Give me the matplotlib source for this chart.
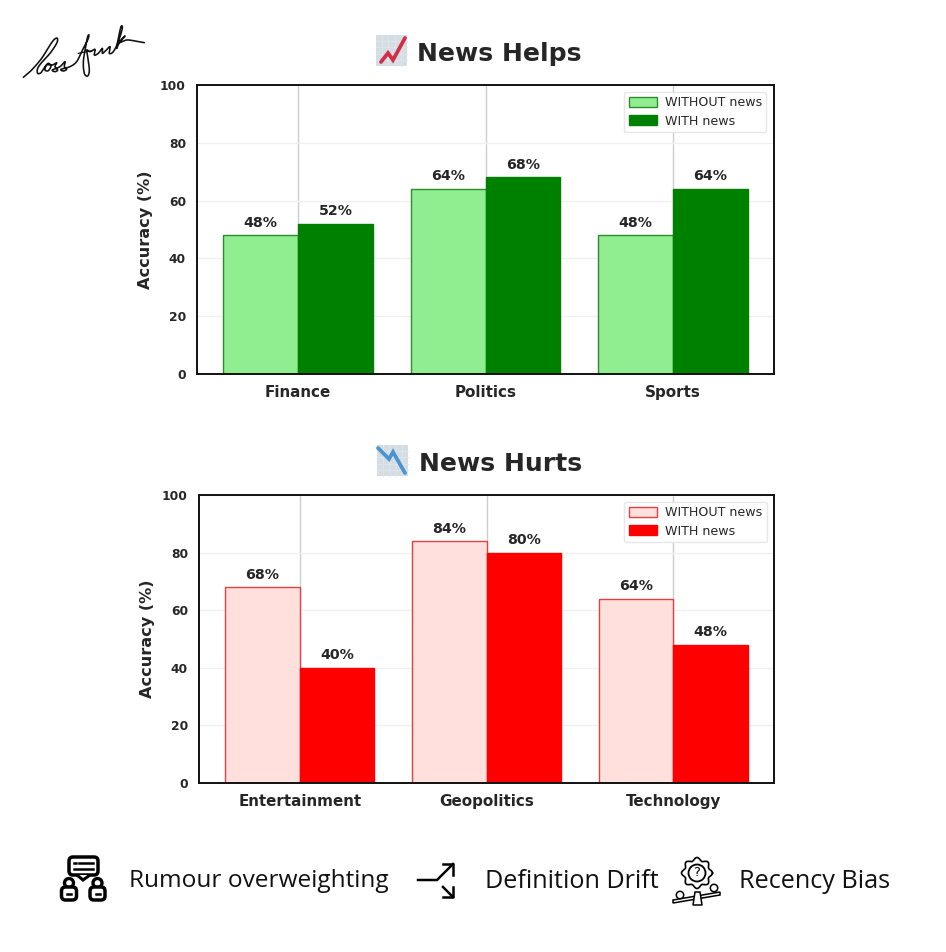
import numpy as np
import matplotlib as mpl
mpl.use('Agg')
import matplotlib.pyplot as plt
from matplotlib.patches import Circle, FancyBboxPatch, Polygon, Rectangle

# values
help_cats = ['Finance', 'Politics', 'Sports']
help_without = [48, 64, 48]
help_with = [52, 68, 64]
hurt_cats = ['Entertainment', 'Geopolitics', 'Technology']
hurt_without = [68, 84, 64]
hurt_with = [40, 80, 48]
yticks = [0, 20, 40, 60, 80, 100]
legend_names = ['WITHOUT news', 'WITH news']

W, H = 946, 952
TEXT = '#262626'
width = 0.4

fig = plt.figure(figsize=(W / 100, H / 100), dpi=100, facecolor='white')


def px_axes(x0, y0, x1, y1):
    # axes box given in image pixels, y counted from the top
    return fig.add_axes([x0 / W, 1 - y1 / H, (x1 - x0) / W, (y1 - y0) / H])


def draw_panel(ax, cats, without, with_news, c_light, c_edge, c_dark, leg_anchor):
    x = np.arange(len(cats))
    ax.set_axisbelow(True)
    ax.xaxis.grid(True, color='#cccccc', lw=1)
    ax.yaxis.grid(True, color='#f0f0f0', lw=1)
    r1 = ax.bar(x - width / 2, without, width, color=c_light, edgecolor=c_edge, lw=1,
                label=legend_names[0])
    r2 = ax.bar(x + width / 2, with_news, width, color=c_dark, edgecolor=c_dark, lw=1,
                label=legend_names[1])
    for rects in (r1, r2):
        ax.bar_label(rects, fmt='%d%%', padding=4, fontsize=10.2, fontweight='bold', color=TEXT)
    ax.set_xlim(-0.54, 2.54)
    ax.set_ylim(0, 100)
    ax.set_xticks(x, cats, fontsize=10.9, fontweight='bold', color=TEXT)
    ax.set_yticks(yticks, [str(v) for v in yticks], fontsize=8.8, fontweight='bold', color=TEXT)
    ax.tick_params(length=0, pad=8)
    ax.set_ylabel('Accuracy (%)', fontsize=11.6, fontweight='bold', color=TEXT, labelpad=5)
    for s in ax.spines.values():
        s.set_color('#111111')
        s.set_linewidth(1.4)
    ax.legend(loc='upper right', bbox_to_anchor=leg_anchor, borderaxespad=0, fontsize=9.1, frameon=True,
              framealpha=0.85, edgecolor='#e3e3e3', labelcolor=TEXT, borderpad=0.35,
              handlelength=2.2, handleheight=0.8, labelspacing=0.42, handletextpad=0.65, fancybox=True)


ax1 = px_axes(197, 85, 774, 374)
draw_panel(ax1, help_cats, help_without, help_with, 'lightgreen', '#2e8b2e', 'green', (0.987, 0.976))
ax2 = px_axes(199, 495, 774, 783)
draw_panel(ax2, hurt_cats, hurt_without, hurt_with, '#ffe0dd', '#e04040', 'red', (0.987, 0.976))

# overlay in image pixels for titles, logo and icons
ov = fig.add_axes([0, 0, 1, 1], zorder=5)
ov.set_xlim(0, W)
ov.set_ylim(H, 0)
ov.axis('off')
ov.patch.set_alpha(0)

ov.text(417, 54, 'News Helps', fontsize=18.1, fontweight='bold', color=TEXT, va='center', ha='left')
ov.text(419, 464, 'News Hurts', fontsize=18.1, fontweight='bold', color=TEXT, va='center', ha='left')


def chart_icon(x0, y0, size, xs, ys, col):
    ov.add_patch(Rectangle((x0, y0), size, size, color='#d5dde4', lw=0))
    for i in range(1, 5):
        p = size * i / 5
        ov.plot([x0 + p, x0 + p], [y0, y0 + size], color='#e0e5ea', lw=0.7)
        ov.plot([x0, x0 + size], [y0 + p, y0 + p], color='#e0e5ea', lw=0.7)
    ov.plot(xs, ys, color=col, lw=2.7, solid_capstyle='round', solid_joinstyle='miter')


chart_icon(376, 35, 31, [381, 388, 393, 405], [62, 53, 60, 38], '#d03045')
chart_icon(377, 445, 31, [378, 389, 393, 405], [448, 459, 452, 473], '#4a94cf')


def smooth(points, n=8):
    # catmull-rom through the hand traced points of the signature
    p = np.array(points, dtype=float)
    p = np.vstack([p[0], p, p[-1]])
    t = np.linspace(0, 1, n, endpoint=False)[:, None]
    out = []
    for i in range(1, len(p) - 2):
        a, b, c, d = p[i - 1], p[i], p[i + 1], p[i + 2]
        out.append(0.5 * (2 * b + (c - a) * t + (2 * a - 5 * b + 4 * c - d) * t ** 2
                          + (3 * b - a - 3 * c + d) * t ** 3))
    return np.vstack(out + [p[-2][None, :]])


# handwritten logo, traced on a 3x crop that starts at (15, 20)
logo = [(25, 172), (50, 150), (80, 115), (105, 75), (118, 58), (127, 55), (125, 70), (105, 100), (82, 125),
        (68, 145), (68, 160), (78, 158), (90, 140), (100, 130), (108, 138), (100, 152), (90, 150), (95, 135),
        (112, 135), (125, 128), (120, 140), (128, 150), (120, 155), (112, 150), (135, 140), (150, 125),
        (148, 140), (155, 148), (145, 153), (138, 148), (165, 140), (185, 125), (200, 95), (218, 60),
        (222, 45), (218, 50), (212, 80), (205, 125), (208, 160), (218, 168), (223, 150), (218, 110),
        (215, 90), (225, 95), (240, 88), (238, 105), (250, 100), (262, 85), (262, 100), (272, 92), (285, 80),
        (283, 100), (295, 95), (310, 65), (322, 25), (318, 20), (310, 55), (305, 85), (312, 70), (330, 48),
        (312, 68), (335, 60), (360, 63), (388, 68)]
curve = smooth(logo)
ov.plot(curve[:, 0] / 3 + 15, curve[:, 1] / 3 + 20, color='#111111', lw=1.15, solid_joinstyle='round',
        solid_capstyle='round')
ov.plot(np.array([190, 205, 232]) / 3 + 15, np.array([100, 97, 92]) / 3 + 20, color='#111111', lw=0.9)

# rumour icon
ov.add_patch(FancyBboxPatch((69, 857), 29, 18, boxstyle='round,pad=0,rounding_size=4', fc='none', ec='black', lw=2.5))
ov.add_patch(Polygon([(77, 875), (83, 880), (90, 875)], closed=False, fc='white', ec='black', lw=2.2))
ov.plot([74, 76], [863, 863], color='black', lw=1.8)
ov.plot([79, 93], [863, 863], color='black', lw=1.8)
ov.plot([74, 93], [869, 869], color='black', lw=1.8)
for cx in (69, 97.5):
    ov.add_patch(Circle((cx, 883), 4.5, fc='none', ec='black', lw=2.4))
    ov.add_patch(FancyBboxPatch((cx - 7.5, 887), 15, 13, boxstyle='round,pad=0,rounding_size=4', fc='white', ec='black', lw=2.5))
    ov.plot([cx - 2, cx + 2], [894, 894], color='black', lw=1.8)

# split arrow icon
ov.plot([418, 437, 453], [880, 880, 864], color='black', lw=1.8)
ov.plot([443, 453, 453], [864, 864, 875], color='black', lw=1.8)
ov.plot([443, 453], [887, 897], color='black', lw=1.8)
ov.plot([443, 453, 453], [897, 897, 887], color='black', lw=1.8)

# gear and seesaw icon
theta = np.linspace(0, 2 * np.pi, 161)
r = 14 + 1.5 * np.cos(8 * theta)
ov.plot(697 + r * np.cos(theta), 873 + r * np.sin(theta), color='black', lw=1.2)
ov.add_patch(Circle((697, 873), 8.5, fc='none', ec='black', lw=1.3))
ov.text(697, 873, '?', fontsize=9.5, ha='center', va='center', color='black')
ov.add_patch(Polygon([(673, 903), (673, 900), (720, 892), (720, 895)], fc='white', ec='black', lw=1.1))
ov.add_patch(Polygon([(693, 905), (695, 892), (700, 892), (702, 905)], fc='white', ec='black', lw=1.1))
ov.add_patch(Circle((680, 895), 3.7, fc='white', ec='black', lw=1.1))
ov.add_patch(Circle((714, 888), 3.7, fc='white', ec='black', lw=1.1))

# causes row along the bottom
ov.text(129, 881, 'Rumour overweighting', fontsize=17.6, family='Open Sans', color='#111111', va='center')
ov.text(485, 881, 'Definition Drift', fontsize=18.1, family='Open Sans', color='#111111', va='center')
ov.text(739, 881, 'Recency Bias', fontsize=18.2, family='Open Sans', color='#111111', va='center')

fig.savefig('out.png', dpi=100)
